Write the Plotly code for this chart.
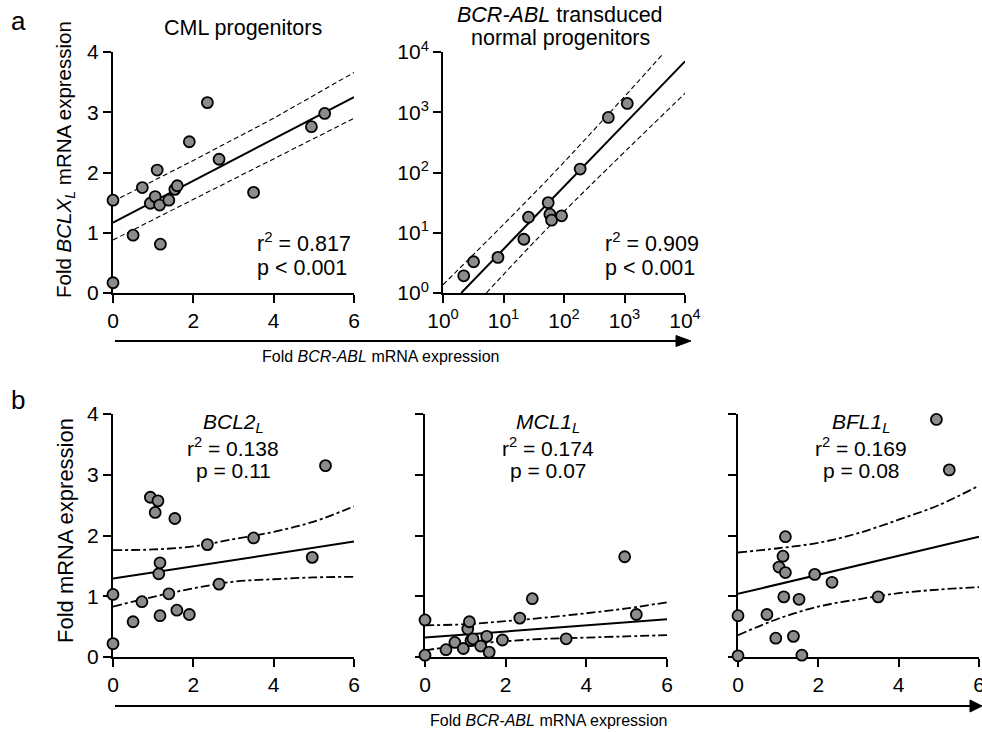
import plotly.graph_objects as go

# ---------------- data ----------------
# (a) CML progenitors: fold BCR-ABL vs fold BCLXL
cml_bcrabl = [0, 0, 0.50, 0.73, 0.93, 1.05, 1.10, 1.16, 1.18, 1.39, 1.54, 1.60, 1.90, 2.35, 2.64, 3.50, 4.94, 5.27]
cml_bclxl = [1.54, 0.17, 0.96, 1.75, 1.49, 1.60, 2.04, 1.46, 0.81, 1.54, 1.72, 1.78, 2.51, 3.16, 2.22, 1.67, 2.76, 2.98]
cml_fit_x = [0, 6]
cml_fit_y = [1.17, 3.25]
cml_band_x = [0, 2, 4, 6]
cml_upper = [1.52, 2.20, 2.90, 3.66]
cml_lower = [0.88, 1.55, 2.22, 2.90]

# (a) BCR-ABL transduced normal progenitors (log-log)
trans_bcrabl = [2.2, 3.2, 8.1, 21.7, 25.9, 54.8, 58.4, 62.3, 91.2, 185, 540, 1112]
trans_bclxl = [1.93, 3.3, 3.9, 7.8, 18.1, 31.6, 20.3, 16.2, 19.1, 114, 820, 1400]
trans_fit_x = [2.0, 10000]
trans_fit_y = [1.0, 7000]
trans_upper_x = [1.0, 63, 4390]
trans_upper_y = [1.37, 91, 9420]
trans_lower_x = [5.2, 63, 15670]
trans_lower_y = [1.0, 14.1, 3184]

# (b) other anti-apoptotic genes vs fold BCR-ABL
band_x = [0, 1, 2, 3, 4, 5, 6]
fit_x = [0, 6]

bcl2_x = [0, 0, 0.50, 0.72, 0.93, 1.05, 1.12, 1.14, 1.17, 1.17, 1.39, 1.54, 1.59, 1.90, 2.35, 2.64, 3.50, 4.96, 5.29]
bcl2_y = [1.03, 0.22, 0.58, 0.91, 2.63, 2.38, 2.57, 1.37, 0.68, 1.55, 1.04, 2.28, 0.77, 0.70, 1.85, 1.20, 1.96, 1.64, 3.15]
bcl2_fit = [1.29, 1.90]
bcl2_upper = [1.76, 1.77, 1.82, 1.94, 2.06, 2.23, 2.48]
bcl2_lower = [0.83, 0.99, 1.13, 1.24, 1.28, 1.31, 1.32]

mcl1_x = [0, 0, 0.52, 0.74, 0.95, 1.06, 1.10, 1.14, 1.19, 1.38, 1.53, 1.59, 1.92, 2.35, 2.66, 3.50, 4.95, 5.24]
mcl1_y = [0.61, 0.03, 0.12, 0.24, 0.14, 0.46, 0.58, 0.27, 0.30, 0.18, 0.34, 0.08, 0.28, 0.64, 0.96, 0.30, 1.65, 0.70]
mcl1_fit = [0.32, 0.62]
mcl1_upper = [0.52, 0.54, 0.59, 0.65, 0.72, 0.80, 0.90]
mcl1_lower = [0.11, 0.20, 0.26, 0.30, 0.32, 0.34, 0.36]

bfl1_x = [0, 0, 0.72, 0.94, 1.02, 1.12, 1.14, 1.18, 1.18, 1.38, 1.52, 1.59, 1.91, 2.34, 3.49, 4.94, 5.26]
bfl1_y = [0.68, 0.02, 0.70, 0.31, 1.48, 1.66, 0.99, 1.98, 1.39, 0.34, 0.95, 0.03, 1.36, 1.23, 0.99, 3.91, 3.08]
bfl1_fit = [1.04, 1.98]
bfl1_upper = [1.72, 1.79, 1.88, 2.04, 2.26, 2.50, 2.82]
bfl1_lower = [0.36, 0.63, 0.83, 0.95, 1.05, 1.11, 1.15]

lin_ticks = [0, 2, 4, 6]
y_ticks = [0, 1, 2, 3, 4]
log_ticks = [1, 10, 100, 1000, 10000]
log_labels = ["10<sup>0</sup>", "10<sup>1</sup>", "10<sup>2</sup>", "10<sup>3</sup>", "10<sup>4</sup>"]

# ---------------- layout helpers ----------------
W, H = 982, 732
FONT = "Liberation Sans, Arial, Helvetica, sans-serif"
TICK_SIZE = 21
TEXT_SIZE = 21.5


def px(x):
    return x / W


def py(y):
    return 1 - y / H


MARKER = dict(size=11, color="#8c8c8c", line=dict(color="black", width=1.8))
SOLID = dict(color="black", width=2)
THIN_DASH = dict(color="black", width=1.1, dash="5px,3px")
LONG_DASH = dict(color="black", width=1.8, dash="9px,3px,3px,3px", shape="spline")

fig = go.Figure()


def add_panel(n, xs, ys, lines):
    xa = "x" if n == 1 else f"x{n}"
    ya = "y" if n == 1 else f"y{n}"
    for lx, ly, style in lines:
        fig.add_trace(go.Scatter(x=lx, y=ly, mode="lines", line=style, xaxis=xa, yaxis=ya,
                                 hoverinfo="skip", showlegend=False))
    fig.add_trace(go.Scatter(x=xs, y=ys, mode="markers", marker=MARKER, xaxis=xa, yaxis=ya,
                             cliponaxis=False, showlegend=False))


add_panel(1, cml_bcrabl, cml_bclxl, [
    (cml_fit_x, cml_fit_y, SOLID),
    (cml_band_x, cml_upper, THIN_DASH),
    (cml_band_x, cml_lower, THIN_DASH),
])
add_panel(2, trans_bcrabl, trans_bclxl, [
    (trans_fit_x, trans_fit_y, SOLID),
    (trans_upper_x, trans_upper_y, dict(THIN_DASH, shape="spline")),
    (trans_lower_x, trans_lower_y, dict(THIN_DASH, shape="spline")),
])
add_panel(3, bcl2_x, bcl2_y, [
    (fit_x, bcl2_fit, SOLID),
    (band_x, bcl2_upper, LONG_DASH),
    (band_x, bcl2_lower, LONG_DASH),
])
add_panel(4, mcl1_x, mcl1_y, [
    (fit_x, mcl1_fit, SOLID),
    (band_x, mcl1_upper, LONG_DASH),
    (band_x, mcl1_lower, LONG_DASH),
])
add_panel(5, bfl1_x, bfl1_y, [
    (fit_x, bfl1_fit, SOLID),
    (band_x, bfl1_upper, LONG_DASH),
    (band_x, bfl1_lower, LONG_DASH),
])


def axis(dom, anchor, rng, tickvals, labels=True, ticktext=None, log=False):
    a = dict(domain=dom, anchor=anchor, range=rng, tickmode="array", tickvals=tickvals,
             showline=True, linecolor="black", linewidth=2, mirror=False,
             ticks="outside", ticklen=8, tickwidth=2, tickcolor="black",
             showgrid=False, zeroline=False, showticklabels=labels,
             tickfont=dict(family=FONT, size=TICK_SIZE, color="black"),
             ticklabeloverflow="allow",
             layer="below traces", fixedrange=True, automargin=False)
    if ticktext is not None:
        a["ticktext"] = ticktext
    if log:
        a["type"] = "log"
    return a


# plot-area boxes in pixels: (left, right, top, bottom)
boxes = {
    1: (113, 354, 52, 293),
    2: (443, 685, 52, 293),
    3: (113, 354, 414, 657),
    4: (425, 667, 414, 657),
    5: (738, 979, 414, 657),
}

layout_axes = {}
for n, (l, r, t, b) in boxes.items():
    xk = "xaxis" if n == 1 else f"xaxis{n}"
    yk = "yaxis" if n == 1 else f"yaxis{n}"
    xa = "x" if n == 1 else f"x{n}"
    ya = "y" if n == 1 else f"y{n}"
    xdom = [px(l), px(r)]
    ydom = [py(b), py(t)]
    if n == 2:
        layout_axes[xk] = axis(xdom, ya, [0, 4], log_ticks, ticktext=log_labels, log=True)
        layout_axes[yk] = axis(ydom, xa, [0, 4], log_ticks, ticktext=log_labels, log=True)
    else:
        layout_axes[xk] = axis(xdom, ya, [0, 6], lin_ticks)
        layout_axes[yk] = axis(ydom, xa, [0, 4], y_ticks, labels=(n in (1, 3)))

# ---------------- text ----------------
ann = []


def text(x, y, s, size=TEXT_SIZE, xanchor="center", **kw):
    ann.append(dict(x=px(x), y=py(y), xref="paper", yref="paper", text=s, showarrow=False,
                    xanchor=xanchor, yanchor="middle",
                    font=dict(family=FONT, size=size, color="black"), **kw))


text(18, 21, "a", size=26)
text(18, 400, "b", size=26)

text(243, 28, "CML progenitors")
text(560, 15, "<i>BCR-ABL</i> transduced")
text(560, 38, "normal progenitors")

text(255, 242, "r<sup>2</sup> = 0.817", xanchor="left")
text(255, 268, "p &lt; 0.001", xanchor="left")
text(603, 242, "r<sup>2</sup> = 0.909", xanchor="left")
text(603, 268, "p &lt; 0.001", xanchor="left")

for cx, gene, r2, p in [(233, "BCL2", "0.138", "0.11"),
                        (548, "MCL1", "0.174", "0.07"),
                        (861, "BFL1", "0.169", "0.08")]:
    text(cx, 423, f"<i>{gene}<sub>L</sub></i>", size=21)
    text(cx, 447, f"r<sup>2</sup> = {r2}", size=21)
    text(cx, 470, f"p = {p}", size=21)

text(65, 160, "Fold <i>BCLX<sub>L</sub></i> mRNA expression", size=20.5, textangle=-90)
text(65, 531, "Fold mRNA expression", size=22, textangle=-90)

text(380, 356, "Fold <i>BCR-ABL</i> mRNA expression", size=16)
text(548, 720, "Fold <i>BCR-ABL</i> mRNA expression", size=16)

# ---------------- arrows along the shared x label ----------------
shapes = []


def arrow(x0, x1, y, head=15, half=5.5):
    shapes.append(dict(type="line", xref="paper", yref="paper",
                       x0=px(x0), x1=px(x1 - head + 1), y0=py(y), y1=py(y),
                       line=dict(color="black", width=2)))
    path = (f"M {px(x1 - head)} {py(y - half)} L {px(x1)} {py(y)} "
            f"L {px(x1 - head)} {py(y + half)} Z")
    shapes.append(dict(type="path", xref="paper", yref="paper", path=path,
                       fillcolor="black", line=dict(color="black", width=1)))


arrow(115, 691, 341)
arrow(115, 982, 706, head=12, half=6)

fig.update_layout(
    width=W, height=H,
    margin=dict(l=0, r=0, t=0, b=0),
    paper_bgcolor="white", plot_bgcolor="rgba(0,0,0,0)",
    showlegend=False,
    annotations=ann, shapes=shapes,
    **layout_axes,
)

fig.write_html("out.html")
